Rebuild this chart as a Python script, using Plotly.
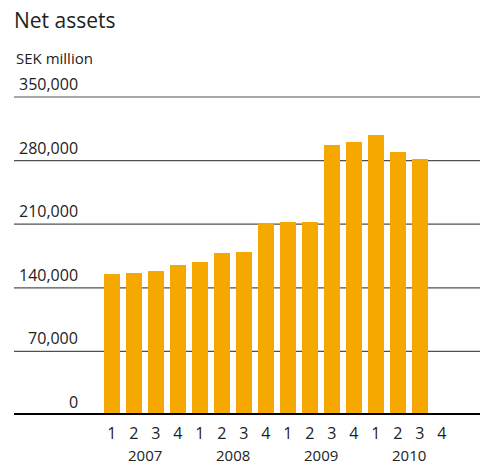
import plotly.graph_objects as go

quarters = ["1", "2", "3", "4"] * 4
years = ["2007", "2008", "2009", "2010"]
categories = [f"{y} Q{q}" for y in years for q in ["1", "2", "3", "4"]]
net_assets = [155400, 156500, 158700, 165300, 168600, 178500, 179600, 211400,
              212500, 212500, 297100, 300400, 308100, 289400, 281800, None]
y_ticks = [0, 70000, 140000, 210000, 280000, 350000]
y_tick_labels = ["0", "70,000", "140,000", "210,000", "280,000", "350,000"]

W, H = 480, 466
L, R, T, B = 14, 0, 92, 51
PH = H - T - B
FONT = "Open Sans"
TXT = "#222222"
YMAX = 350000 * (PH / (PH - 5))

fig = go.Figure()
fig.add_trace(go.Bar(
    x=categories, y=net_assets, marker=dict(color="#F5A800", line=dict(width=0)),
    width=0.727, hoverinfo="x+y",
))

annotations = []
for v, t in zip(y_ticks, y_tick_labels):
    annotations.append(dict(
        x=(80 - L) / (W - L - R), xref="paper", y=v, yref="y",
        text=t, showarrow=False, xanchor="right", yanchor="bottom", yshift=0,
        font=dict(family=FONT, size=16, color=TXT),
    ))
for i, yr in enumerate(years):
    annotations.append(dict(
        x=i * 4 + 1.5, xref="x", y=0, yref="y", text=yr, showarrow=False,
        xanchor="center", yanchor="middle", yshift=-40,
        font=dict(family=FONT, size=15, color=TXT),
    ))
annotations.append(dict(
    x=0, xref="paper", y=1 + (T - 58) / PH, yref="paper", yanchor="middle",
    xanchor="left", text="SEK million", showarrow=False,
    font=dict(family=FONT, size=15, color=TXT),
))

shapes = [dict(type="line", xref="paper", x0=0, x1=1, yref="y", y0=v, y1=v,
               line=dict(color="#505050", width=1.2), layer="below")
          for v in y_ticks[1:]]
shapes.append(dict(type="line", xref="paper", x0=0, x1=1, yref="y", y0=0, y1=0,
                   line=dict(color="black", width=4), layer="above"))

fig.update_layout(
    width=W, height=H, margin=dict(l=L, r=R, t=T, b=B),
    paper_bgcolor="white", plot_bgcolor="white",
    showlegend=False, bargap=0,
    title=dict(text="Net assets", x=L / W, xanchor="left", y=1 - 21 / H, yanchor="middle",
               font=dict(family=FONT, size=21, color=TXT)),
    xaxis=dict(
        type="category", range=[-4.45, 16.73], tickmode="array",
        tickvals=categories, ticktext=quarters, ticks="", showgrid=False,
        showline=False, zeroline=False, ticklabelstandoff=7,
        tickfont=dict(family=FONT, size=16, color=TXT), fixedrange=True,
    ),
    yaxis=dict(
        range=[0, YMAX], tickvals=y_ticks, showticklabels=False,
        showgrid=False, zeroline=False,
        showline=False, ticks="", fixedrange=True,
    ),
    annotations=annotations,
    shapes=shapes,
)
fig.write_html("out.html")
